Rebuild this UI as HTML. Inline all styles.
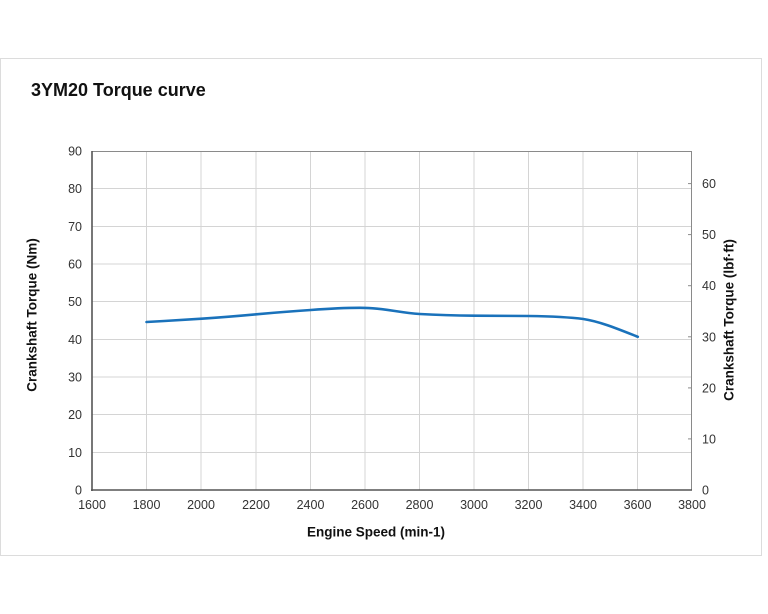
<!DOCTYPE html>
<html>
<head>
<meta charset="utf-8">
<style>
  html,body{margin:0;padding:0;background:#fff;}
  svg{display:block;font-family:"Liberation Sans",Arial,sans-serif;}
</style>
</head>
<body>
<svg width="768" height="614" viewBox="0 0 768 614" xmlns="http://www.w3.org/2000/svg">
  <rect x="0" y="0" width="768" height="614" fill="#fff"/>
  <!-- outer frame -->
  <rect x="0.5" y="58.5" width="761" height="497" fill="#fff" stroke="#dcdcdc" stroke-width="1"/>
  <!-- title -->
  <text x="31" y="96" font-size="18" font-weight="bold" fill="#111">3YM20 Torque curve</text>

  <!-- gridlines -->
  <g stroke="#d4d4d4" stroke-width="1">
    <line x1="146.5" y1="151" x2="146.5" y2="490"/>
    <line x1="201" y1="151" x2="201" y2="490"/>
    <line x1="256" y1="151" x2="256" y2="490"/>
    <line x1="310.5" y1="151" x2="310.5" y2="490"/>
    <line x1="365" y1="151" x2="365" y2="490"/>
    <line x1="419.5" y1="151" x2="419.5" y2="490"/>
    <line x1="474" y1="151" x2="474" y2="490"/>
    <line x1="528.5" y1="151" x2="528.5" y2="490"/>
    <line x1="583" y1="151" x2="583" y2="490"/>
    <line x1="637.5" y1="151" x2="637.5" y2="490"/>
    <line x1="92" y1="452.5" x2="692" y2="452.5"/>
    <line x1="92" y1="414.5" x2="692" y2="414.5"/>
    <line x1="92" y1="377" x2="692" y2="377"/>
    <line x1="92" y1="339.5" x2="692" y2="339.5"/>
    <line x1="92" y1="301.5" x2="692" y2="301.5"/>
    <line x1="92" y1="264" x2="692" y2="264"/>
    <line x1="92" y1="226.5" x2="692" y2="226.5"/>
    <line x1="92" y1="188.5" x2="692" y2="188.5"/>
  </g>

  <!-- top/right axes -->
  <line x1="92" y1="151.5" x2="692" y2="151.5" stroke="#8a8a8a" stroke-width="1"/>
  <line x1="691.5" y1="151" x2="691.5" y2="490" stroke="#8a8a8a" stroke-width="1"/>
  <!-- right ticks -->
  <g stroke="#8a8a8a" stroke-width="1">
    <line x1="688" y1="438.9" x2="692" y2="438.9"/>
    <line x1="688" y1="387.9" x2="692" y2="387.9"/>
    <line x1="688" y1="336.8" x2="692" y2="336.8"/>
    <line x1="688" y1="285.7" x2="692" y2="285.7"/>
    <line x1="688" y1="234.6" x2="692" y2="234.6"/>
    <line x1="688" y1="183.6" x2="692" y2="183.6"/>
  </g>
  <!-- left/bottom axes -->
  <line x1="92" y1="151" x2="92" y2="491" stroke="#555" stroke-width="1.6"/>
  <line x1="91" y1="490" x2="692" y2="490" stroke="#555" stroke-width="1.6"/>

  <!-- curve -->
  <path d="M146.5,322 C165,321 185,319.8 201.7,318.7 C220,317.4 238,316 256.2,314.3 C275,312.6 292,311.2 310.7,310 C330,308.6 348,307.6 365.2,307.9 C385,308.3 400,312.8 419.7,314 C440,315.1 456,315.5 474.2,315.7 C495,315.9 510,315.8 528.8,316 C548,316.3 568,317 583.3,319 C600,321.5 618,329 637.8,336.8"
        fill="none" stroke="#1a72bb" stroke-width="2.6" stroke-linecap="round" stroke-linejoin="round"/>

  <!-- left tick labels -->
  <g font-size="12.5" fill="#333" text-anchor="end">
    <text x="82" y="494.5">0</text>
    <text x="82" y="457">10</text>
    <text x="82" y="419">20</text>
    <text x="82" y="381.5">30</text>
    <text x="82" y="344">40</text>
    <text x="82" y="306">50</text>
    <text x="82" y="268.5">60</text>
    <text x="82" y="231">70</text>
    <text x="82" y="193">80</text>
    <text x="82" y="155.5">90</text>
  </g>
  <!-- right tick labels -->
  <g font-size="12.5" fill="#333" text-anchor="start">
    <text x="702" y="494.5">0</text>
    <text x="702" y="443.4">10</text>
    <text x="702" y="392.4">20</text>
    <text x="702" y="341.3">30</text>
    <text x="702" y="290.2">40</text>
    <text x="702" y="239.1">50</text>
    <text x="702" y="188.1">60</text>
  </g>
  <!-- x tick labels -->
  <g font-size="12.5" fill="#333" text-anchor="middle">
    <text x="92" y="509">1600</text>
    <text x="146.5" y="509">1800</text>
    <text x="201" y="509">2000</text>
    <text x="256" y="509">2200</text>
    <text x="310.5" y="509">2400</text>
    <text x="365" y="509">2600</text>
    <text x="419.5" y="509">2800</text>
    <text x="474" y="509">3000</text>
    <text x="528.5" y="509">3200</text>
    <text x="583" y="509">3400</text>
    <text x="637.5" y="509">3600</text>
    <text x="692" y="509">3800</text>
  </g>

  <!-- axis titles -->
  <text x="376" y="536.5" font-size="13.5" font-weight="bold" fill="#111" text-anchor="middle">Engine Speed (min-1)</text>
  <text transform="translate(36.5,315) rotate(-90)" font-size="13.5" font-weight="bold" fill="#111" text-anchor="middle">Crankshaft Torque (Nm)</text>
  <text transform="translate(733.5,320) rotate(-90)" font-size="13.5" font-weight="bold" fill="#111" text-anchor="middle">Crankshaft Torque (lbf·ft)</text>
</svg>
</body>
</html>
